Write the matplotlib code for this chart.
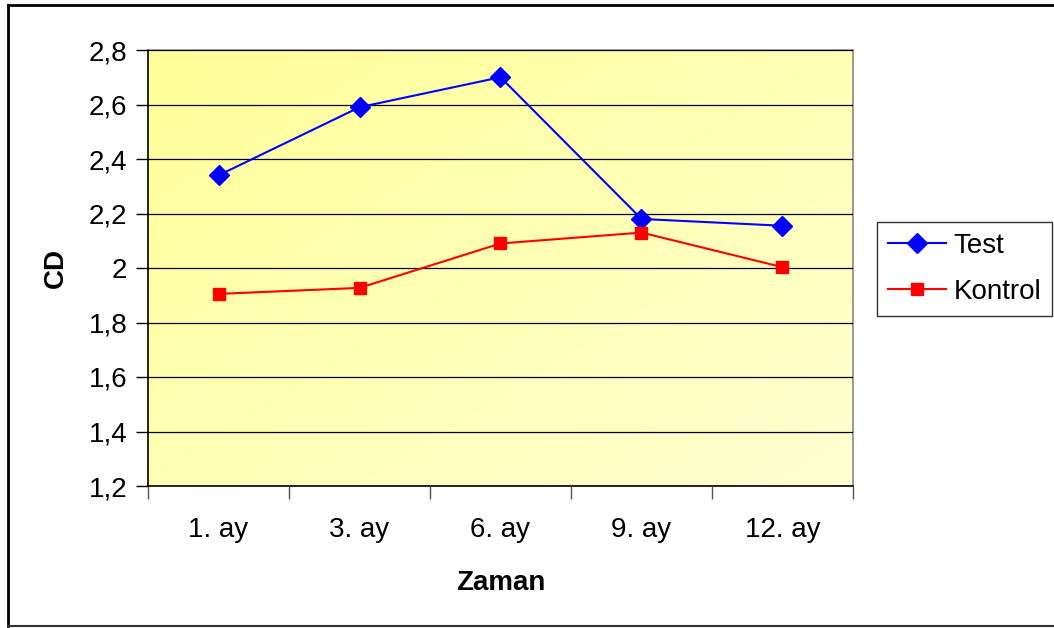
import numpy as np
import matplotlib.pyplot as plt
from matplotlib.colors import LinearSegmentedColormap
from matplotlib.lines import Line2D

plt.rcParams['font.family'] = ['Liberation Sans', 'DejaVu Sans']

months = ["1. ay", "3. ay", "6. ay", "9. ay", "12. ay"]
test = [2.34, 2.59, 2.70, 2.18, 2.155]
kontrol = [1.905, 1.927, 2.09, 2.13, 2.003]

fig = plt.figure(figsize=(10.54, 6.28), dpi=100)
ax = fig.add_axes([148/1054, 1 - 486/628, 705/1054, 436/628])

# gradient fill of plot area (yellow top-left -> pale bottom-right)
gx, gy = np.meshgrid(np.linspace(0, 1, 200), np.linspace(0, 1, 200))
g = (gx + gy) / 2
cmap = LinearSegmentedColormap.from_list("yl", ["#FFFF99", "#FFFFD2"])
ax.imshow(g, extent=[-0.5, 4.5, 1.2, 2.8], origin="upper", cmap=cmap,
          aspect="auto", zorder=0, interpolation="bilinear")

x = np.arange(len(months))
ax.plot(x, test, color="#0000FF", lw=1.5, marker="D", ms=10, zorder=3, label="Test")
ax.plot(x, kontrol, color="#FF0000", lw=1.5, marker="s", ms=9, zorder=3, label="Kontrol")

ax.set_xlim(-0.5, 4.5)
ax.set_ylim(1.2, 2.8)
ax.set_yticks(np.arange(1.2, 2.81, 0.2))
ax.set_yticklabels(["1,2", "1,4", "1,6", "1,8", "2", "2,2", "2,4", "2,6", "2,8"])
ax.yaxis.grid(True, color="black", lw=0.9)
ax.set_axisbelow(False)
for ln in ax.get_ygridlines():
    ln.set_zorder(1)

ax.set_xticks(np.arange(-0.5, 4.6, 1.0))
ax.set_xticklabels([])
ax.set_xticks(x, minor=True)
ax.set_xticklabels(months, minor=True)
ax.tick_params(axis="x", which="minor", length=0, labelsize=20, pad=22)
ax.tick_params(axis="x", which="major", length=9, width=1, color="#555555")
ax.tick_params(axis="y", length=9, width=1, labelsize=20, pad=6)

ax.spines["left"].set_color("black")
ax.spines["bottom"].set_color("black")
ax.spines["right"].set_color("#888888")
ax.spines["top"].set_color("#888888")
for s in ax.spines.values():
    s.set_linewidth(1.2)

ax.set_xlabel("Zaman", fontsize=20, fontweight="bold", labelpad=20)
ax.set_ylabel("CD", fontsize=20, fontweight="bold", labelpad=14)

leg = ax.legend(loc="upper left", bbox_to_anchor=(877/1054, 1 - 222/628),
                bbox_transform=fig.transFigure, fontsize=20, frameon=True,
                fancybox=False, edgecolor="black", handlelength=2.1,
                borderpad=0.4, labelspacing=0.72, handletextpad=0.25,
                borderaxespad=0)
leg.get_frame().set_linewidth(1.0)

# outer chart frame (left, top, bottom)
fig.add_artist(Line2D([8/1054, 8/1054], [2/628, 1 - 5/628], color="black", lw=2))
fig.add_artist(Line2D([8/1054, 1], [1 - 5/628, 1 - 5/628], color="black", lw=2))
fig.add_artist(Line2D([8/1054, 1], [2/628, 2/628], color="#333333", lw=1.5))

fig.savefig("out.png", dpi=100)
